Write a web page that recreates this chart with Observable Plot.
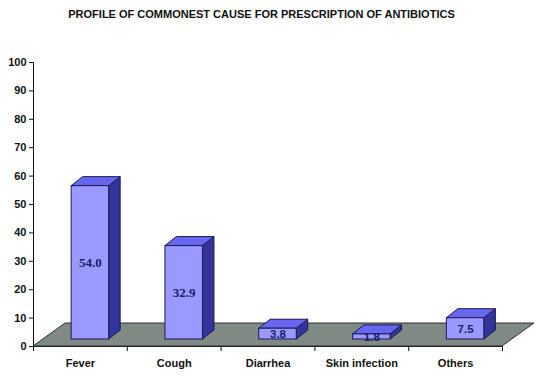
<!DOCTYPE html>
<html><head><meta charset="utf-8">
<script src="https://cdn.jsdelivr.net/npm/d3@7"></script>
<script src="https://cdn.jsdelivr.net/npm/@observablehq/plot@0.6"></script>
<style>
body{margin:0;background:#fff;font-family:"Liberation Sans",Arial,sans-serif;}
#title{width:539px;height:30px;line-height:28px;text-align:center;font-weight:bold;font-size:11px;color:#111;padding-right:16px;box-sizing:border-box;white-space:nowrap;}
#chart svg{display:block;}
</style></head>
<body>
<div id="title">PROFILE OF COMMONEST CAUSE FOR PRESCRIPTION OF ANTIBIOTICS</div>
<div id="chart"></div>
<script>
const categories = ["Fever", "Cough", "Diarrhea", "Skin infection", "Others"];
const values = [54.0, 32.9, 3.8, 1.8, 7.5];
const valueLabels = ["54.0", "32.9", "3.8", "1.8", "7.5"];
const yTicks = [0, 10, 20, 30, 40, 50, 60, 70, 80, 90, 100];
const xEdges = [0, 1, 2, 3, 4, 5];

const data = categories.map((c, i) => ({category: c, i, value: values[i], label: valueLabels[i]}));

const BAR_DX = 10, BAR_DY = -7;      // bar placed inside floor depth
const DEPTH_DX = 11.5, DEPTH_DY = -9; // bar depth
const FLOOR_DX = 32, FLOOR_DY = -23;  // floor depth

function poly(g, pts, fill, stroke) {
  g.append("polygon").attr("points", pts.map(p => p.join(",")).join(" "))
    .attr("fill", fill).attr("stroke", stroke).attr("stroke-width", 1).attr("stroke-linejoin", "round");
}

function floorMark(index, scales) {
  const {x, y} = scales;
  const g = d3.create("svg:g");
  const x0 = x(0), x1 = x(5), y0 = y(0);
  poly(g, [[x0, y0], [x1, y0], [x1 + FLOOR_DX, y0 + FLOOR_DY], [x0 + FLOOR_DX, y0 + FLOOR_DY]], "#7f8a84", "#2e3330");
  return g.node();
}

function barSides(index, scales) {
  const {x, y} = scales;
  const g = d3.create("svg:g");
  for (const d of data) {
    const xl = x(d.i + 0.3) + BAR_DX, xr = x(d.i + 0.7) + BAR_DX;
    const yt = y(d.value) + BAR_DY, yb = y(0) + BAR_DY;
    poly(g, [[xr, yt], [xr + DEPTH_DX, yt + DEPTH_DY], [xr + DEPTH_DX, yb + DEPTH_DY], [xr, yb]], "#333399", "#1a1a55");
    poly(g, [[xl, yt], [xr, yt], [xr + DEPTH_DX, yt + DEPTH_DY], [xl + DEPTH_DX, yt + DEPTH_DY]], "#6666ee", "#1a1a55");
  }
  return g.node();
}

const chart = Plot.plot({
  width: 539,
  height: 346,
  marginLeft: 33,
  marginRight: 37,
  marginTop: 32,
  marginBottom: 30,
  style: {fontFamily: "'Liberation Sans', Arial, sans-serif", fontSize: "11px", fontWeight: "bold", color: "#111", background: "#fff"},
  x: {type: "linear", domain: [0, 5], ticks: xEdges, tickFormat: () => "", tickSize: 5, line: true, label: null},
  y: {domain: [0, 100], ticks: yTicks, tickSize: 4, tickPadding: 3, line: true, label: null},
  marks: [
    floorMark,
    Plot.ruleY([0], {stroke: "#222"}),
    barSides,
    Plot.rectY(data, {x1: d => d.i + 0.3, x2: d => d.i + 0.7, y1: 0, y2: "value", dx: BAR_DX, dy: BAR_DY, fill: "#9999ff", stroke: "#1a1a55", strokeWidth: 1}),
    Plot.text(data.filter(d => d.value >= 20), {x: d => d.i + 0.5, y: d => d.value / 2, dx: BAR_DX, dy: BAR_DY, text: "label", fill: "#1c1c6b", fontFamily: "'Liberation Serif', 'Times New Roman', serif", fontSize: 13, fontWeight: "bold"}),
    Plot.text(data.filter(d => d.value < 20), {x: d => d.i + 0.5, y: d => d.value / 2, dx: BAR_DX, dy: BAR_DY, text: "label", fill: "#1c1c6b", fontSize: 11.5, fontWeight: "bold"}),
    Plot.text(data, {x: d => d.i + 0.5, y: 0, dy: 17, text: "category", fill: "#111", fontSize: 11, fontWeight: "bold"})
  ]
});
document.getElementById("chart").appendChild(chart);
</script>
</body></html>
